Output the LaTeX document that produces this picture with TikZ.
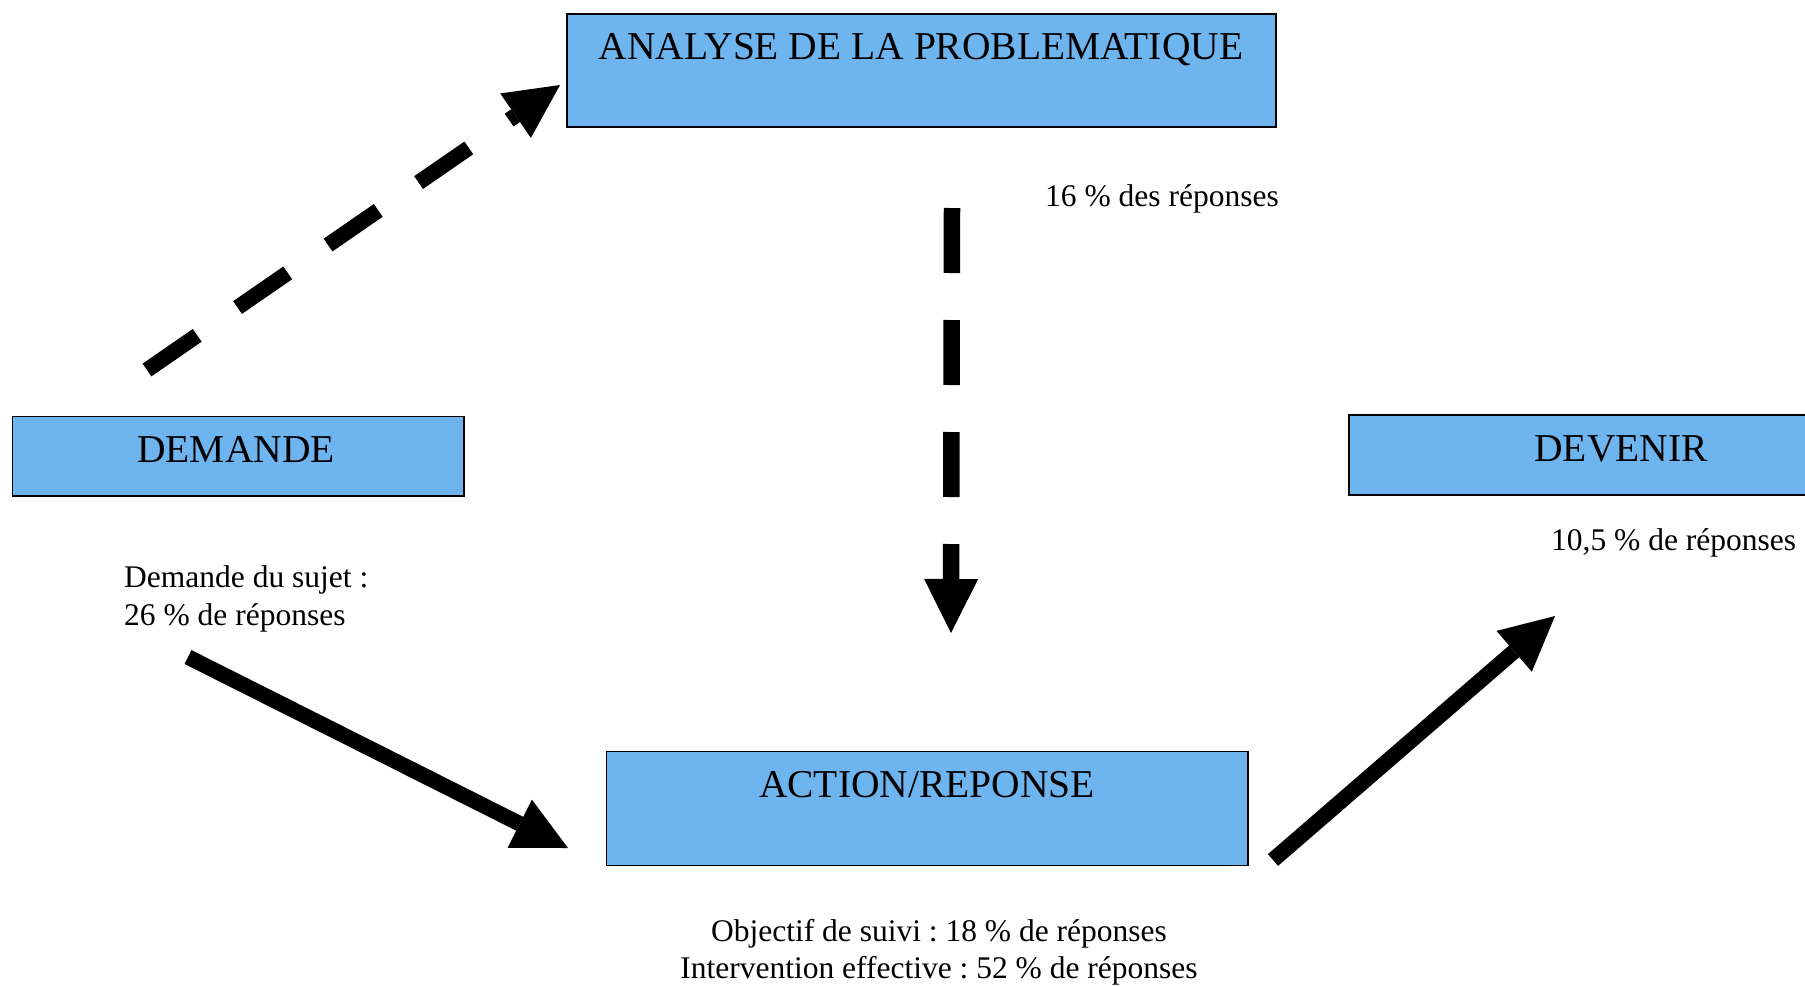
\documentclass[tikz,border=0pt]{standalone}
\usepackage{fontspec}
\setmainfont{Liberation Serif}
\usetikzlibrary{arrows.meta}
\definecolor{boxblue}{RGB}{110,180,238}
\frenchspacing
\begin{document}
\begin{tikzpicture}[x=1pt,y=-1pt,
  box/.style={draw=black, line width=1.8pt, fill=boxblue, rectangle, inner sep=0pt, anchor=north west},
  boxtext/.style={font=\fontsize{39.5}{44}\selectfont, anchor=base, inner sep=0pt},
  smalltext/.style={font=\fontsize{31.5}{37}\selectfont, inner sep=0pt},
  bigarrow/.style={line width=15.5pt, -{Triangle[length=54pt,width=54pt,line width=0pt]}},
  ]
\clip (0,0) rectangle (1805,986);
\fill[white] (0,0) rectangle (1805,986);

% boxes
\node[box, minimum width=709pt, minimum height=113pt] (analyse) at (566,12.7) {};
\node[boxtext] (analyseT) at (921,59) {ANALYSE DE LA PROBLEMATIQUE};
\node[box, minimum width=451.5pt, minimum height=79.4pt] (demande) at (11.5,415.6) {};
\node[boxtext] (demandeT) at (236,462) {DEMANDE};
\node[box, minimum width=480pt, minimum height=80pt] (devenir) at (1348,414) {};
\node[boxtext] (devenirT) at (1621,461) {DEVENIR};
\node[box, minimum width=641.5pt, minimum height=114pt] (action) at (605.5,750.6) {};
\node[boxtext] (actionT) at (927,797) {ACTION/REPONSE};

% labels
\node[smalltext, anchor=base west] (l16) at (1045,206) {16 \% des réponses};
\node[smalltext, anchor=base west] (ldem1) at (124,587) {Demande du sujet :};
\node[smalltext, anchor=base west] (ldem2) at (124,625) {26 \% de réponses};
\node[smalltext, anchor=base west] (ldev) at (1551,550) {10,5 \% de réponses};
\node[smalltext, anchor=base] (lact1) at (939,941.5) {Objectif de suivi : 18 \% de réponses};
\node[smalltext, anchor=base] (lact2) at (939,978) {Intervention effective : 52 \% de réponses};

% arrows
\coordinate (a1s) at (147,370);
\coordinate (a1e) at (560,85);
\coordinate (a2s) at (952,208);
\coordinate (a2e) at (951,633);
\coordinate (a3s) at (188,657);
\coordinate (a3e) at (568,848);
\coordinate (a4s) at (1273,860);
\coordinate (a4e) at (1555,616);

\draw[bigarrow, dash pattern=on 61pt off 49pt] (a1s) -- (a1e);
\draw[bigarrow, line width=16.5pt, dash pattern=on 65pt off 47pt] (a2s) -- (a2e);
\draw[bigarrow] (a3s) -- (a3e);
\draw[bigarrow] (a4s) -- (a4e);
\end{tikzpicture}
\end{document}
